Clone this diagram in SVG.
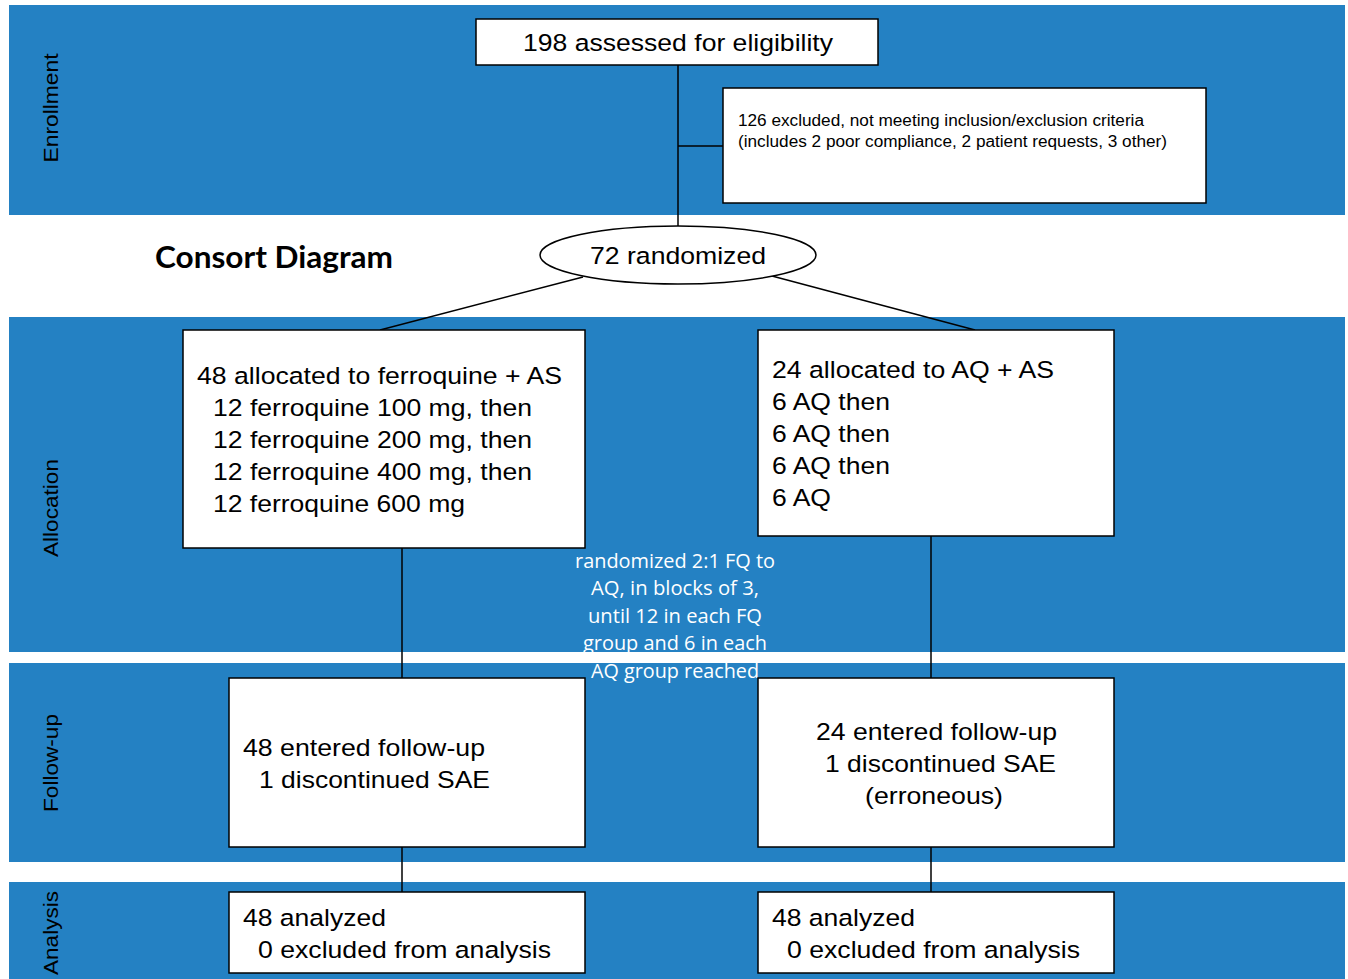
<svg xmlns="http://www.w3.org/2000/svg" width="1348" height="979" viewBox="0 0 1348 979">
<style>
.band{fill:#2481c3}
.box{fill:#fff;stroke:#000;stroke-width:1.5}
text{white-space:pre}
.t{font-family:"Liberation Sans",Arial,sans-serif;font-size:24.5px;fill:#000}
.s{font-family:"Liberation Sans",Arial,sans-serif;font-size:16px;fill:#000}
.side{font-family:"Liberation Sans",Arial,sans-serif;font-size:21px;fill:#000}
.note{font-family:"Open Sans",Lato,sans-serif;font-size:19.5px;fill:#fff}
.title{font-family:Lato,"Open Sans",sans-serif;font-size:30px;font-weight:bold;fill:#000}
.c{stroke:#000;stroke-width:1.5;fill:none}
</style>
<rect width="1348" height="979" fill="#fff"/>
<g id="bands">
<rect class="band" x="9" y="5" width="1336" height="210"/>
<rect class="band" x="9" y="317" width="1336" height="335"/>
<rect class="band" x="9" y="663" width="1336" height="199"/>
<rect class="band" x="9" y="882" width="1336" height="97"/>
<text class="side" transform="translate(58,108) rotate(-90)" text-anchor="middle" textLength="109" lengthAdjust="spacingAndGlyphs">Enrollment</text>
<text class="side" transform="translate(58,508) rotate(-90)" text-anchor="middle" textLength="98" lengthAdjust="spacingAndGlyphs">Allocation</text>
<text class="side" transform="translate(58,763) rotate(-90)" text-anchor="middle" textLength="98" lengthAdjust="spacingAndGlyphs">Follow-up</text>
<text class="side" transform="translate(58,933) rotate(-90)" text-anchor="middle" textLength="84" lengthAdjust="spacingAndGlyphs">Analysis</text>
</g>
<text class="title" x="155" y="268" textLength="238" lengthAdjust="spacingAndGlyphs">Consort Diagram</text>
<g id="note">
<text class="note" text-anchor="middle" x="675" y="568" textLength="200" lengthAdjust="spacingAndGlyphs">randomized 2:1 FQ to</text>
<text class="note" text-anchor="middle" x="675" y="595" textLength="168" lengthAdjust="spacingAndGlyphs">AQ, in blocks of 3,</text>
<text class="note" text-anchor="middle" x="675" y="623" textLength="174" lengthAdjust="spacingAndGlyphs">until 12 in each FQ</text>
<text class="note" text-anchor="middle" x="675" y="650" textLength="184" lengthAdjust="spacingAndGlyphs">group and 6 in each</text>
<text class="note" text-anchor="middle" x="675" y="678" textLength="168" lengthAdjust="spacingAndGlyphs">AQ group reached</text>
</g>
<rect x="0" y="652" width="1348" height="11" fill="#fff"/>
<rect x="0" y="862" width="1348" height="20" fill="#fff"/>
<g id="connectors">
<line class="c" x1="678" y1="65" x2="678" y2="226"/>
<line class="c" x1="678" y1="146" x2="723" y2="146"/>
<line class="c" x1="583" y1="277" x2="380" y2="330"/>
<line class="c" x1="772" y1="276" x2="975" y2="330"/>
<line class="c" x1="402" y1="548" x2="402" y2="678"/>
<line class="c" x1="931" y1="536" x2="931" y2="678"/>
<line class="c" x1="402" y1="847" x2="402" y2="892"/>
<line class="c" x1="931" y1="847" x2="931" y2="892"/>
</g>
<g id="assessed">
<rect class="box" x="476" y="19" width="402" height="46"/>
<text class="t" x="523" y="51" textLength="310" lengthAdjust="spacingAndGlyphs">198 assessed for eligibility</text>
</g>
<g id="excluded">
<rect class="box" x="723" y="88" width="483" height="115"/>
<text class="s" x="738" y="126" textLength="406" lengthAdjust="spacingAndGlyphs">126 excluded, not meeting inclusion/exclusion criteria</text>
<text class="s" x="738" y="147" textLength="429" lengthAdjust="spacingAndGlyphs">(includes 2 poor compliance, 2 patient requests, 3 other)</text>
</g>
<g id="randomized">
<ellipse class="box" cx="678" cy="255" rx="138" ry="29"/>
<text class="t" x="590" y="264" textLength="176" lengthAdjust="spacingAndGlyphs">72 randomized</text>
</g>
<g id="alloc-fq">
<rect class="box" x="183" y="330" width="402" height="218"/>
<text class="t" x="197" y="384" textLength="365" lengthAdjust="spacingAndGlyphs">48 allocated to ferroquine + AS</text>
<text class="t" x="213" y="416" textLength="319" lengthAdjust="spacingAndGlyphs">12 ferroquine 100 mg, then</text>
<text class="t" x="213" y="448" textLength="319" lengthAdjust="spacingAndGlyphs">12 ferroquine 200 mg, then</text>
<text class="t" x="213" y="480" textLength="319" lengthAdjust="spacingAndGlyphs">12 ferroquine 400 mg, then</text>
<text class="t" x="213" y="512" textLength="252" lengthAdjust="spacingAndGlyphs">12 ferroquine 600 mg</text>
</g>
<g id="alloc-aq">
<rect class="box" x="758" y="330" width="356" height="206"/>
<text class="t" x="772" y="378" textLength="282" lengthAdjust="spacingAndGlyphs">24 allocated to AQ + AS</text>
<text class="t" x="772" y="410" textLength="118" lengthAdjust="spacingAndGlyphs">6 AQ then</text>
<text class="t" x="772" y="442" textLength="118" lengthAdjust="spacingAndGlyphs">6 AQ then</text>
<text class="t" x="772" y="474" textLength="118" lengthAdjust="spacingAndGlyphs">6 AQ then</text>
<text class="t" x="772" y="506" textLength="59" lengthAdjust="spacingAndGlyphs">6 AQ</text>
</g>
<g id="follow-fq">
<rect class="box" x="229" y="678" width="356" height="169"/>
<text class="t" x="243" y="756" textLength="242" lengthAdjust="spacingAndGlyphs">48 entered follow-up</text>
<text class="t" x="259" y="788" textLength="231" lengthAdjust="spacingAndGlyphs">1 discontinued SAE</text>
</g>
<g id="follow-aq">
<rect class="box" x="758" y="678" width="356" height="169"/>
<text class="t" x="816" y="740" textLength="241" lengthAdjust="spacingAndGlyphs">24 entered follow-up</text>
<text class="t" x="825" y="772" textLength="231" lengthAdjust="spacingAndGlyphs">1 discontinued SAE</text>
<text class="t" x="865" y="804" textLength="138" lengthAdjust="spacingAndGlyphs">(erroneous)</text>
</g>
<g id="analysis-fq">
<rect class="box" x="229" y="892" width="356" height="81"/>
<text class="t" x="243" y="926" textLength="143" lengthAdjust="spacingAndGlyphs">48 analyzed</text>
<text class="t" x="258" y="958" textLength="293" lengthAdjust="spacingAndGlyphs">0 excluded from analysis</text>
</g>
<g id="analysis-aq">
<rect class="box" x="758" y="892" width="356" height="81"/>
<text class="t" x="772" y="926" textLength="143" lengthAdjust="spacingAndGlyphs">48 analyzed</text>
<text class="t" x="787" y="958" textLength="293" lengthAdjust="spacingAndGlyphs">0 excluded from analysis</text>
</g>
</svg>
